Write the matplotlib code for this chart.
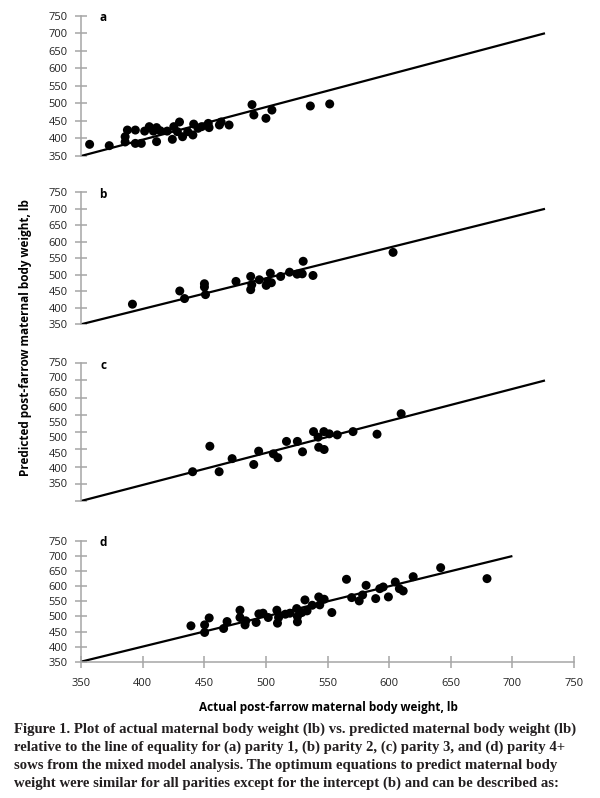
import matplotlib.pyplot as plt
import matplotlib.transforms as mtransforms

# actual vs predicted post-farrow weight (lb)
actual_a = [356.5, 371.3, 383.3, 383.3, 385.0, 391.0, 391.0, 395.5, 398.0, 401.5,
            404.6, 407.0, 407.0, 409.8, 415.0, 418.9, 420.0, 422.7, 424.3, 426.6,
            430.5, 434.4, 435.0, 438.3, 441.0, 446.0, 446.6, 454.4, 455.7, 461.7,
            479.0, 480.4, 489.5, 494.0, 523.0, 537.6]
pred_a = [383.3, 379.5, 390.0, 405.0, 424.0, 424.0, 386.0, 386.0, 421.0, 433.7,
          421.0, 431.0, 391.0, 422.0, 421.0, 397.6, 433.7, 419.4, 447.0, 405.0,
          419.4, 410.0, 441.0, 429.0, 433.7, 443.0, 431.0, 438.4, 447.0, 438.4,
          496.5, 467.0, 457.5, 481.0, 492.6, 498.4]

actual_b = [388.8, 424.5, 428.1, 443.1, 443.1, 443.9, 466.9, 478.0, 478.0, 478.8,
            484.5, 489.7, 491.0, 492.8, 493.6, 500.6, 507.3, 513.0, 516.9, 517.6,
            525.0, 585.4]
pred_b = [411, 451, 428, 473, 463, 440, 480, 495, 455, 470,
          485, 468, 480, 505, 476, 495, 508, 502, 503, 541,
          498, 568]

actual_c = [434.2, 447.2, 454.2, 464.0, 480.3, 484.0, 495.1, 498.5, 505.0, 513.2,
            517.1, 525.4, 528.8, 529.3, 533.2, 533.4, 537.3, 543.3, 555.2, 573.3,
            591.5]
pred_c = [435.0, 509.0, 435.0, 473.0, 456.0, 494.7, 487.0, 475.8, 523.0, 523.0,
          492.8, 551.5, 535.4, 506.0, 551.5, 499.5, 545.0, 542.0, 551.5, 544.0,
          603.5]

actual_d = [439.2, 450.3, 450.3, 454.0, 465.7, 468.5, 479.0, 479.0, 483.1, 483.7,
            492.1, 494.3, 497.7, 501.9, 508.9, 509.4, 510.3, 515.8, 519.5, 525.0,
            525.6, 525.6, 529.2, 531.7, 533.4, 537.6, 542.9, 543.7, 547.3, 553.5,
            565.4, 569.6, 575.7, 578.5, 581.3, 589.1, 592.4, 595.2, 599.4, 605.0,
            608.3, 611.4, 619.5, 641.8, 679.4]
pred_d = [468.9, 472.0, 446.9, 495.0, 460.0, 483.0, 520.6, 496.4, 472.0, 485.4,
          480.0, 508.5, 510.7, 496.4, 520.6, 477.7, 496.4, 507.4, 510.7, 526.0,
          482.0, 499.7, 512.9, 554.7, 518.4, 537.0, 564.6, 538.2, 556.9, 512.9,
          623.0, 562.4, 551.4, 571.2, 603.0, 559.1, 592.0, 597.6, 564.6, 614.0,
          592.0, 584.4, 631.7, 661.5, 625.2]

line_x = [350, 700]
yticks = [350, 400, 450, 500, 550, 600, 650, 700, 750]
xticks = [350, 400, 450, 500, 550, 600, 650, 700, 750]
panel_letters = ['a', 'b', 'c', 'd']

caption = [
    "Figure 1. Plot of actual maternal body weight (lb) vs. predicted maternal body weight (lb)",
    "relative to the line of equality for (a) parity 1, (b) parity 2, (c) parity 3, and (d) parity 4+",
    "sows from the mixed model analysis. The optimum equations to predict maternal body",
    "weight were similar for all parities except for the intercept (b) and can be described as:",
]

plt.rcParams['font.family'] = ['Open Sans', 'DejaVu Sans']
gray = '#a6a6a6'

fig = plt.figure(figsize=(6, 7.98), dpi=100)

# axes boxes in figure fractions [left, bottom, width, height]
boxes = [
    [0.135, 0.8045, 0.8217, 0.1758],
    [0.135, 0.5936, 0.8217, 0.1654],
    [0.135, 0.3722, 0.8217, 0.1726],
    [0.135, 0.1708, 0.8217, 0.1513],
]
data = [(actual_a, pred_a), (actual_b, pred_b), (actual_c, pred_c), (actual_d, pred_d)]

for i, (box, (ax_x, ax_y)) in enumerate(zip(boxes, data)):
    ax = fig.add_axes(box)
    ax.plot(line_x, line_x, color='black', lw=1.6, solid_capstyle='butt', zorder=2)
    ax.scatter(ax_x, ax_y, s=42, color='black', edgecolors='none', zorder=3, clip_on=False)
    ax.set_ylim(350, 750)
    ax.set_yticks(yticks)
    for s in ['top', 'right']:
        ax.spines[s].set_visible(False)
    ax.spines['left'].set_color(gray)
    ax.spines['left'].set_linewidth(1.1)
    ax.tick_params(axis='y', direction='inout', length=9, width=1.1, color=gray,
                   labelsize=8, pad=4.9, labelcolor='#222222')
    if i < 3:
        ax.set_xlim(350, 721.9)
        ax.spines['bottom'].set_visible(False)
        ax.set_xticks([])
    else:
        ax.set_xlim(350, 750)
        ax.set_xticks(xticks)
        ax.spines['bottom'].set_color(gray)
        ax.spines['bottom'].set_linewidth(1.1)
        ax.tick_params(axis='x', direction='inout', length=9, width=1.1, color=gray,
                       labelsize=8, pad=7, labelcolor='#222222')
    if i == 2:
        # labels in panel c sit slightly off their ticks in the original
        ax.set_yticklabels([''] * len(yticks))
        trans = mtransforms.blended_transform_factory(ax.transAxes, ax.transAxes)
        for v in yticks:
            yf = 1 - (750 - v) / 400 * (121 / 137.7)
            ax.annotate(str(v), xy=(0, yf), xycoords=trans, xytext=(-9.4, 0),
                        textcoords='offset points', ha='right', va='center',
                        fontsize=8, color='#222222')
    ax.text(0.045, 0.985, panel_letters[i], transform=ax.transAxes, fontsize=8.5,
            fontweight='bold', ha='center', va='center')

fig.text(0.042, 0.5764, 'Predicted post-farrow maternal body weight, lb', rotation=90,
         ha='center', va='center', fontsize=8.5, fontweight='bold')
fig.text(0.547, 0.1128, 'Actual post-farrow maternal body weight, lb',
         ha='center', va='center', fontsize=8.5, fontweight='bold')

baselines = [732.7, 751.0, 769.0, 787.3]
for line, yb in zip(caption, baselines):
    fig.text(14 / 600, 1 - yb / 798, line, ha='left', va='baseline',
             family='Liberation Serif', fontweight='bold', fontsize=10.65, color='#231f20')

fig.savefig('out.png', dpi=100)
